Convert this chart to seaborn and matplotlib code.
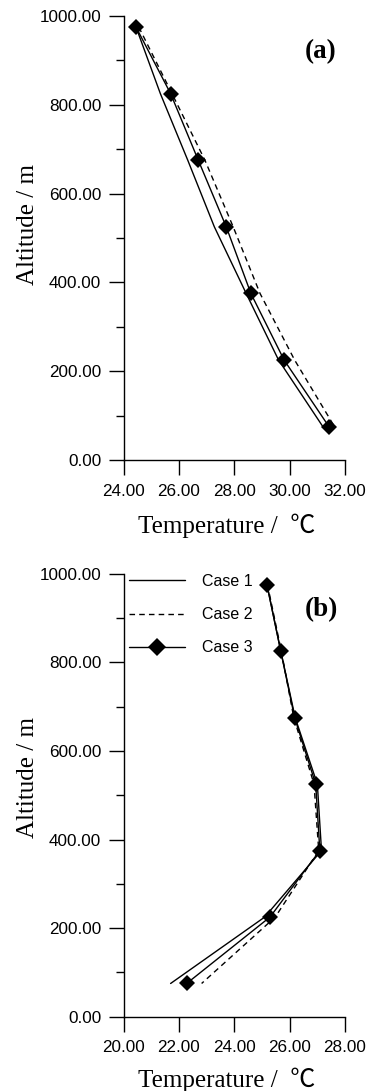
"""Temperaturprofile (a) und (b) fuer drei Faelle als Hoehenprofil."""

import matplotlib
matplotlib.use('Agg')
import matplotlib.pyplot as plt
import seaborn as sns
from matplotlib.ticker import FormatStrFormatter, MultipleLocator


# Hoehenstufen [m]
altitude = [975, 825, 675, 525, 375, 225, 75]

# Panel (a)
temp_a_case1 = [24.45, 25.33, 26.32, 27.28, 28.43, 29.60, 31.20]
temp_a_case2 = [24.55, 25.75, 26.94, 27.96, 28.93, 30.18, 31.62]
temp_a_case3 = [24.45, 25.70, 26.70, 27.71, 28.60, 29.80, 31.42]

# Panel (b)
temp_b_case1 = [25.18, 25.68, 26.20, 27.00, 27.15, 25.10, 21.70]
temp_b_case2 = [25.20, 25.70, 26.15, 26.88, 27.05, 25.48, 22.82]
temp_b_case3 = [25.18, 25.68, 26.18, 26.94, 27.09, 25.29, 22.28]

case_labels = ['Case 1', 'Case 2', 'Case 3']
panel_labels = ['(a)', '(b)']
xticks_a = [24, 26, 28, 30, 32]
xticks_b = [20, 22, 24, 26, 28]

SERIF = ['Liberation Serif', 'Noto Sans CJK SC', 'DejaVu Sans']
SANS = ['Liberation Sans', 'DejaVu Sans']

sns.set_style('ticks', {
    'text.color': 'black', 'axes.labelcolor': 'black', 'axes.edgecolor': 'black',
    'xtick.color': 'black', 'ytick.color': 'black',
})
plt.rcParams['font.family'] = SANS


def draw_panel(ax, temps, xticks, panel_label, xlabel_y, ylabel_y):
    """Zeichnet die drei Faelle eines Panels."""
    styles = [
        dict(linestyle='-', marker=None),
        dict(linestyle=(0, (4, 3)), marker=None),
        dict(linestyle='-', marker='D', markersize=8, markeredgewidth=0),
    ]
    for temp, label, st in zip(temps, case_labels, styles):
        sns.lineplot(x=temp, y=altitude, sort=False, color='black', linewidth=1.0,
                     label=label, ax=ax, **st)

    ax.set_xlim(xticks[0], xticks[-1])
    ax.set_ylim(0, 1000)
    ax.set_xticks(xticks)
    ax.yaxis.set_major_locator(MultipleLocator(200))
    ax.yaxis.set_minor_locator(MultipleLocator(100))
    ax.xaxis.set_major_formatter(FormatStrFormatter('%.2f'))
    ax.yaxis.set_major_formatter(FormatStrFormatter('%.2f'))
    ax.tick_params(which='major', length=10.5, width=1, labelsize=12.3, color='black',
                   labelcolor='black')
    ax.tick_params(axis='x', which='major', pad=6.5)
    ax.tick_params(axis='y', which='major', pad=5.5)
    ax.tick_params(which='minor', length=6, width=1, color='black')
    for side in ['left', 'bottom']:
        ax.spines[side].set_linewidth(1)
        ax.spines[side].set_color('black')
    sns.despine(ax=ax)

    ax.set_xlabel('Temperature /  \u2103', family=SERIF, fontsize=18)
    ax.set_ylabel('Altitude / m', family=SERIF, fontsize=18)
    ax.xaxis.label.set_va('baseline')
    ax.xaxis.set_label_coords(0.465, xlabel_y)
    ax.yaxis.set_label_coords(-0.381, ylabel_y)
    ax.text(0.892, 0.92, panel_label, transform=ax.transAxes, ha='center', va='center',
            family=SERIF, fontsize=19.5, fontweight='bold')


fig = plt.figure(figsize=(3.71, 10.91), dpi=100)
ax_a = fig.add_axes([0.333, 0.5784, 0.597, 0.407])
ax_b = fig.add_axes([0.333, 0.0681, 0.597, 0.406])

draw_panel(ax_a, [temp_a_case1, temp_a_case2, temp_a_case3], xticks_a, panel_labels[0],
           -0.165, 0.53)
draw_panel(ax_b, [temp_b_case1, temp_b_case2, temp_b_case3], xticks_b, panel_labels[1],
           -0.159, 0.54)

ax_a.get_legend().remove()
ax_b.legend(loc='upper left', bbox_to_anchor=(0.023, 1.0), frameon=False, fontsize=11.5,
            handlelength=3.5, handletextpad=1.1, labelspacing=1.15, borderpad=0,
            borderaxespad=0, markerscale=1.2)

fig.savefig('out.png', dpi=100)
plt.close(fig)
